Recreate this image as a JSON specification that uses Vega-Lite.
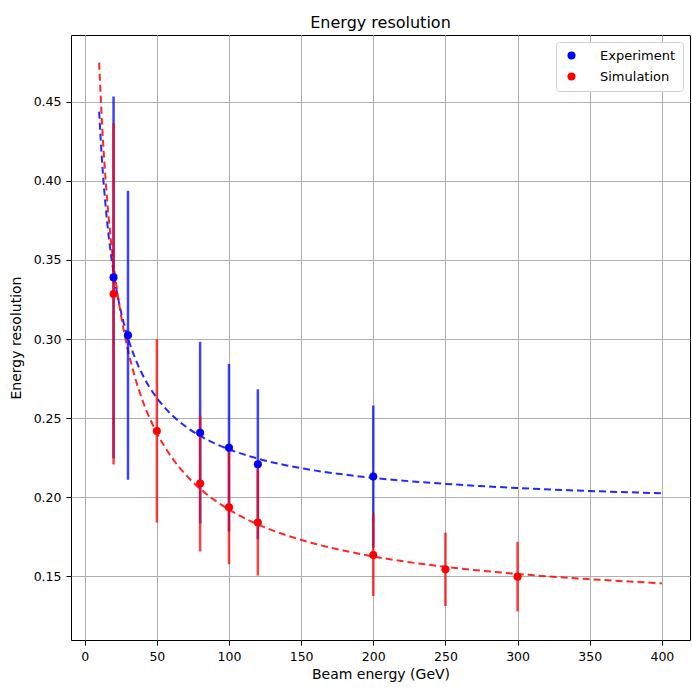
{
  "$schema": "https://vega.github.io/schema/vega-lite/v6.json",
  "width": 619,
  "height": 605,
  "autosize": {"type": "none"},
  "padding": {"left": 71, "top": 35, "right": 2, "bottom": 52},
  "background": "white",
  "title": {"text": "Energy resolution", "fontSize": 16, "font": "DejaVu Sans", "fontWeight": "normal", "color": "black", "offset": 4},
  "config": {
    "font": "DejaVu Sans",
    "view": {"stroke": "black", "strokeWidth": 1},
    "axis": {
      "domain": false,
      "grid": true,
      "gridColor": "#b0b0b0",
      "gridWidth": 1,
      "gridOpacity": 1,
      "ticks": true,
      "tickColor": "black",
      "tickSize": 5,
      "tickWidth": 1,
      "labelColor": "black",
      "labelFontSize": 12.5,
      "labelFont": "DejaVu Sans",
      "titleFont": "DejaVu Sans",
      "titleFontSize": 14,
      "titleFontWeight": "normal",
      "titleColor": "black",
      "labelPadding": 5
    }
  },
  "datasets": {
    "curves": [
      {"series": "Experiment", "E": 10, "y": 0.4439},
      {"series": "Experiment", "E": 12, "y": 0.4128},
      {"series": "Experiment", "E": 15, "y": 0.3791},
      {"series": "Experiment", "E": 18, "y": 0.3548},
      {"series": "Experiment", "E": 20, "y": 0.3421},
      {"series": "Experiment", "E": 25, "y": 0.3178},
      {"series": "Experiment", "E": 30, "y": 0.3006},
      {"series": "Experiment", "E": 35, "y": 0.2876},
      {"series": "Experiment", "E": 40, "y": 0.2775},
      {"series": "Experiment", "E": 50, "y": 0.2627},
      {"series": "Experiment", "E": 60, "y": 0.2523},
      {"series": "Experiment", "E": 70, "y": 0.2446},
      {"series": "Experiment", "E": 80, "y": 0.2387},
      {"series": "Experiment", "E": 90, "y": 0.2340},
      {"series": "Experiment", "E": 100, "y": 0.2302},
      {"series": "Experiment", "E": 120, "y": 0.2243},
      {"series": "Experiment", "E": 140, "y": 0.2200},
      {"series": "Experiment", "E": 160, "y": 0.2167},
      {"series": "Experiment", "E": 180, "y": 0.2142},
      {"series": "Experiment", "E": 200, "y": 0.2121},
      {"series": "Experiment", "E": 250, "y": 0.2083},
      {"series": "Experiment", "E": 300, "y": 0.2057},
      {"series": "Experiment", "E": 350, "y": 0.2038},
      {"series": "Experiment", "E": 400, "y": 0.2024},
      {"series": "Simulation", "E": 10, "y": 0.4749},
      {"series": "Simulation", "E": 12, "y": 0.4365},
      {"series": "Simulation", "E": 15, "y": 0.3945},
      {"series": "Simulation", "E": 18, "y": 0.3638},
      {"series": "Simulation", "E": 20, "y": 0.3474},
      {"series": "Simulation", "E": 25, "y": 0.3158},
      {"series": "Simulation", "E": 30, "y": 0.2929},
      {"series": "Simulation", "E": 35, "y": 0.2753},
      {"series": "Simulation", "E": 40, "y": 0.2613},
      {"series": "Simulation", "E": 50, "y": 0.2405},
      {"series": "Simulation", "E": 60, "y": 0.2255},
      {"series": "Simulation", "E": 70, "y": 0.2141},
      {"series": "Simulation", "E": 80, "y": 0.2052},
      {"series": "Simulation", "E": 90, "y": 0.1980},
      {"series": "Simulation", "E": 100, "y": 0.1920},
      {"series": "Simulation", "E": 120, "y": 0.1827},
      {"series": "Simulation", "E": 140, "y": 0.1757},
      {"series": "Simulation", "E": 160, "y": 0.1703},
      {"series": "Simulation", "E": 180, "y": 0.1660},
      {"series": "Simulation", "E": 200, "y": 0.1624},
      {"series": "Simulation", "E": 250, "y": 0.1558},
      {"series": "Simulation", "E": 300, "y": 0.1513},
      {"series": "Simulation", "E": 350, "y": 0.1480},
      {"series": "Simulation", "E": 400, "y": 0.1454}
    ],
    "points": [
      {"series": "Experiment", "E": 20, "y": 0.339, "lo": 0.2245, "hi": 0.4535},
      {"series": "Experiment", "E": 30, "y": 0.3024, "lo": 0.2109, "hi": 0.3939},
      {"series": "Experiment", "E": 80, "y": 0.2407, "lo": 0.1832, "hi": 0.2982},
      {"series": "Experiment", "E": 100, "y": 0.2312, "lo": 0.1782, "hi": 0.2842},
      {"series": "Experiment", "E": 120, "y": 0.2207, "lo": 0.1732, "hi": 0.2682},
      {"series": "Experiment", "E": 200, "y": 0.2129, "lo": 0.1679, "hi": 0.2579},
      {"series": "Simulation", "E": 20, "y": 0.3285, "lo": 0.2205, "hi": 0.4365},
      {"series": "Simulation", "E": 50, "y": 0.2418, "lo": 0.1838, "hi": 0.2998},
      {"series": "Simulation", "E": 80, "y": 0.2085, "lo": 0.1655, "hi": 0.2515},
      {"series": "Simulation", "E": 100, "y": 0.1935, "lo": 0.1575, "hi": 0.2295},
      {"series": "Simulation", "E": 120, "y": 0.1838, "lo": 0.1503, "hi": 0.2173},
      {"series": "Simulation", "E": 200, "y": 0.1633, "lo": 0.1373, "hi": 0.1893},
      {"series": "Simulation", "E": 250, "y": 0.1542, "lo": 0.131, "hi": 0.1774},
      {"series": "Simulation", "E": 300, "y": 0.1496, "lo": 0.1276, "hi": 0.1716}
    ]
  },
  "layer": [
    {
      "data": {"name": "curves"},
      "transform": [{"filter": "datum.series === 'Experiment'"}],
      "mark": {"type": "line", "color": "#0000ff", "strokeDash": [7, 4], "strokeWidth": 2, "opacity": 0.85, "interpolate": "monotone"},
      "encoding": {
        "x": {"field": "E", "type": "quantitative", "scale": {"domain": [-9.5, 419.5], "nice": false, "zero": false}, "axis": {"values": [0, 50, 100, 150, 200, 250, 300, 350, 400], "title": "Beam energy (GeV)", "titlePadding": 5}},
        "y": {"field": "y", "type": "quantitative", "scale": {"domain": [0.1095, 0.4924], "nice": false, "zero": false}, "axis": {"values": [0.15, 0.2, 0.25, 0.3, 0.35, 0.4, 0.45], "format": ".2f", "title": "Energy resolution", "titlePadding": 10}}
      }
    },
    {
      "data": {"name": "curves"},
      "transform": [{"filter": "datum.series === 'Simulation'"}],
      "mark": {"type": "line", "color": "#ff0000", "strokeDash": [7, 4], "strokeWidth": 2, "opacity": 0.85, "interpolate": "monotone"},
      "encoding": {
        "x": {"field": "E", "type": "quantitative"},
        "y": {"field": "y", "type": "quantitative"}
      }
    },
    {
      "data": {"name": "points"},
      "transform": [{"filter": "datum.series === 'Experiment'"}],
      "mark": {"type": "rule", "color": "#0000ff", "strokeWidth": 2.5, "opacity": 0.75},
      "encoding": {
        "x": {"field": "E", "type": "quantitative"},
        "y": {"field": "lo", "type": "quantitative"},
        "y2": {"field": "hi"}
      }
    },
    {
      "data": {"name": "points"},
      "transform": [{"filter": "datum.series === 'Simulation'"}],
      "mark": {"type": "rule", "color": "#ff0000", "strokeWidth": 2.5, "opacity": 0.75},
      "encoding": {
        "x": {"field": "E", "type": "quantitative"},
        "y": {"field": "lo", "type": "quantitative"},
        "y2": {"field": "hi"}
      }
    },
    {
      "data": {"name": "points"},
      "mark": {"type": "circle", "size": 65, "opacity": 1},
      "encoding": {
        "x": {"field": "E", "type": "quantitative"},
        "y": {"field": "y", "type": "quantitative"},
        "color": {
          "field": "series", "type": "nominal",
          "scale": {"domain": ["Experiment", "Simulation"], "range": ["#0000ff", "#ff0000"]},
          "legend": {
            "title": null,
            "orient": "top-right",
            "offset": 7,
            "fillColor": "white",
            "strokeColor": "#d0d0d0",
            "cornerRadius": 3,
            "padding": 7,
            "symbolType": "circle",
            "symbolSize": 65,
            "symbolOpacity": 1,
            "symbolOffset": 2,
            "labelFontSize": 13,
            "labelFont": "DejaVu Sans",
            "labelColor": "black",
            "labelOffset": 22,
            "rowPadding": 7
          }
        }
      }
    }
  ]
}
